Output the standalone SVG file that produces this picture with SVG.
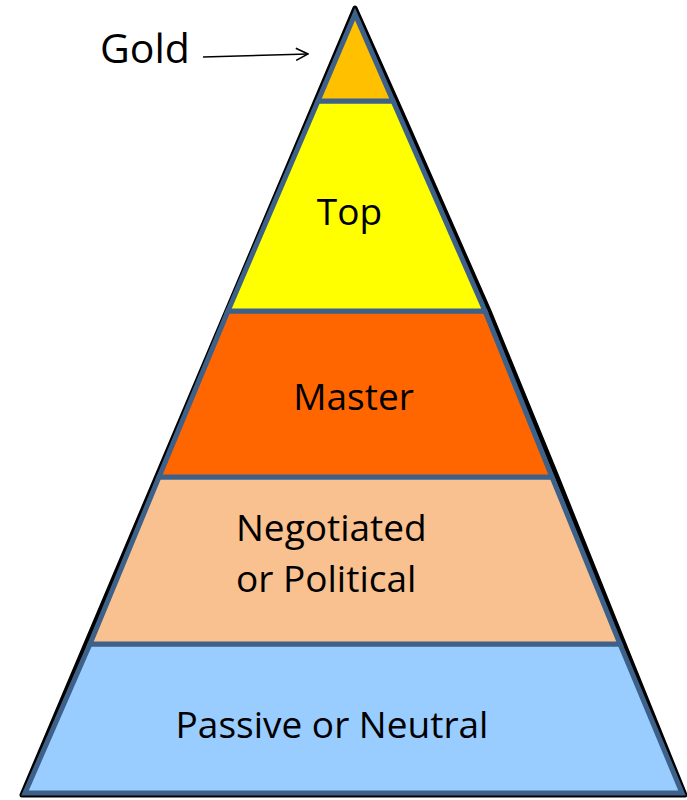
<svg xmlns="http://www.w3.org/2000/svg" width="687" height="800" viewBox="0 0 687 800">
<defs>
<style>
.band{stroke:#3E6189;stroke-width:5;stroke-linejoin:miter}
.lbl{font-family:"Open Sans","Liberation Sans",sans-serif;font-size:37px;fill:#000}
</style>
<marker id="open" markerWidth="14" markerHeight="14" refX="13" refY="7" orient="auto" markerUnits="userSpaceOnUse">
<path d="M1,1 L13,7 L1,13" fill="none" stroke="#000" stroke-width="1.6"/>
</marker>
</defs>
<rect width="687" height="800" fill="#fff"/>
<polygon points="355,8 405,120 489,311 557,477 624,644 685,795 22,795" fill="none" stroke="#000" stroke-width="5" stroke-linejoin="round"/>
<g id="passive">
<polygon class="band" points="90,644 620,644 682,793 25,793" fill="#99CCFF"/>
<text class="lbl" x="332" y="738" text-anchor="middle">Passive or Neutral</text>
</g>
<g id="negotiated">
<polygon class="band" points="159,477 552,477 620,644 90,644" fill="#F9C090"/>
<text class="lbl" x="236" y="541">Negotiated</text>
<text class="lbl" x="236" y="592">or Political</text>
</g>
<g id="master">
<polygon class="band" points="228,311 485,311 552,477 159,477" fill="#FF6600"/>
<text class="lbl" x="353.5" y="410" text-anchor="middle">Master</text>
</g>
<g id="top">
<polygon class="band" points="318,101 393,101 485,311 228,311" fill="#FFFF00"/>
<text class="lbl" x="349.5" y="225" text-anchor="middle">Top</text>
</g>
<g id="gold">
<polygon class="band" points="355,14 393,101 318,101" fill="#FFC000"/>
</g>
<g id="gold-label">
<text x="100" y="63" font-family="'Open Sans','Liberation Sans',sans-serif" font-size="41px" fill="#000">Gold</text>
</g>
<g id="connectors">
<line x1="203" y1="57" x2="308" y2="54" stroke="#000" stroke-width="1.6" marker-end="url(#open)"/>
</g>
</svg>
